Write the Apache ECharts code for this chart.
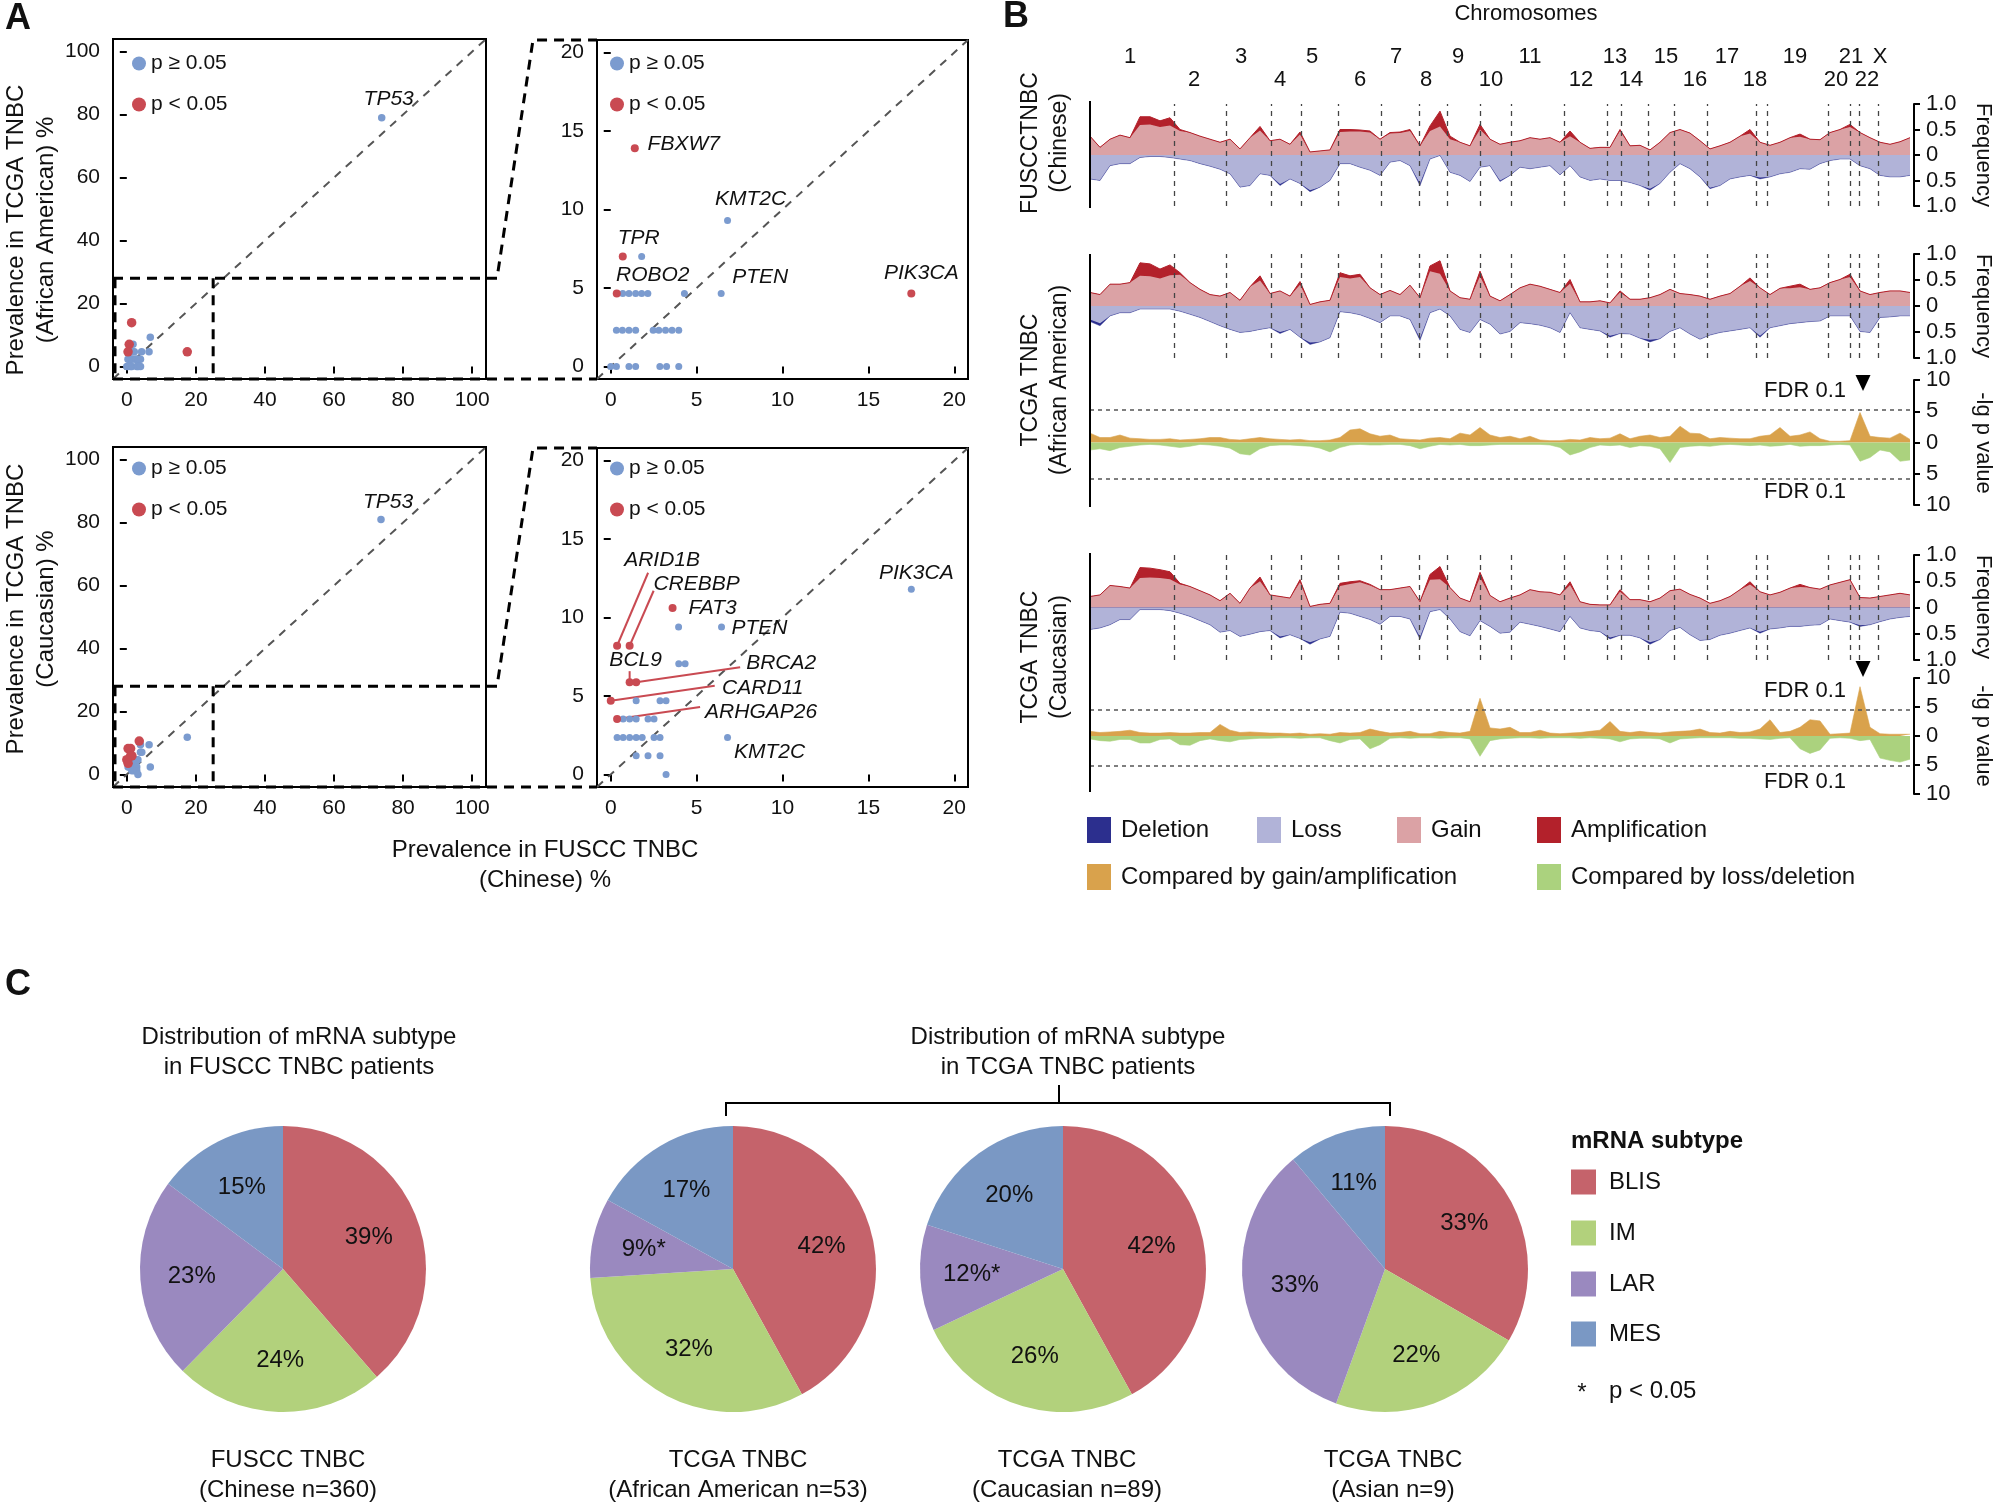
<!DOCTYPE html>
<html><head><meta charset="utf-8">
<script src="https://cdn.jsdelivr.net/npm/echarts@6/dist/echarts.min.js"></script>
<style>html,body{margin:0;padding:0;background:#fff}#c{width:1998px;height:1505px}</style>
</head><body><div id="c"></div>
<script>
const FONT = '"Liberation Sans", Arial, Helvetica, sans-serif';
const BLUE = '#7b9bcf', RED = '#c94a52', INK = '#111';

// ================= Panel A data =================
const aaBlue = [[73.8,79],[6.8,9.3],[1.8,7.0],[0.7,4.65],[1.06,4.65],[1.45,4.65],[1.8,4.65],[2.16,4.65],[4.29,4.65],[6.43,4.65],
  [0.33,2.3],[0.68,2.3],[1.06,2.3],[1.45,2.3],[2.47,2.3],[2.8,2.3],[3.19,2.3],[3.57,2.3],[3.96,2.3],
  [0,0],[0.33,0],[1.06,0],[1.45,0],[2.86,0],[3.25,0],[3.96,0]];
const aaBlueGenes = ['TP53','KMT2C','','','','','','','','PTEN','','','','','','','','','','','','','','','',''];
const aaRed = [[1.4,13.9],[0.7,7.0],[0.35,4.65],[17.5,4.65]];
const aaRedGenes = ['FBXW7','TPR','ROBO2','PIK3CA'];

const cauBlue = [[73.6,81],[17.5,11.8],[3.95,9.4],[6.45,9.4],[3.96,7.05],[4.33,7.05],[1.48,4.69],[2.87,4.69],[3.22,4.69],
  [0.72,3.53],[1.1,3.53],[1.48,3.53],[2.17,3.53],[2.52,3.53],[0.37,2.36],[0.72,2.36],[1.1,2.36],[1.48,2.36],[1.83,2.36],
  [2.52,2.36],[2.87,2.36],[6.8,2.36],[1.48,1.19],[2.17,1.19],[2.87,1.19],[3.22,0]];
const cauBlueGenes = ['TP53','PIK3CA','','PTEN','','','','','','','','','','','','','','','','','','KMT2C','','','',''];
const cauRed = [[3.6,10.6],[0.37,8.2],[1.1,8.2],[1.1,5.88],[1.48,5.88],[0,4.69],[0.37,3.53]];
const cauRedGenes = ['FAT3','ARID1B','CREBBP','BCL9','BRCA2','CARD11','ARHGAP26'];

const fullTicks = [0,20,40,60,80,100];
const zoomTicks = [0,5,10,15,20];
const zoomBox = {x:25, y:28};

// label placement (px offsets from point) – styling, not data
const offTL = {TP53:[7,-19]};
const offTR = {FBXW7:[49,-4], KMT2C:[23,-21], TPR:[16,-18], ROBO2:[36,-18], PTEN:[39,-16], PIK3CA:[10,-20]};
const offBL = {TP53:[7,-17]};
const offBR = {PIK3CA:[5,-16], FAT3:[40,0], PTEN:[38,1], KMT2C:[42,15], ARID1B:[45,-86], CREBBP:[67,-62],
  BCL9:[6,-22], BRCA2:[145,-19], CARD11:[152,-13], ARHGAP26:[144,-7]};
const leaderBR = {ARID1B:[31,-73], CREBBP:[24,-55], BCL9:[0,-11], BRCA2:[104,-15], CARD11:[104,-15], ARHGAP26:[83,-12]};

// ================= Panel B data =================
const chromNames = ['1','2','3','4','5','6','7','8','9','10','11','12','13','14','15','16','17','18','19','20','21','22','X'];
const chromLabelPos = [40,104,151,190,222,270,306,336,368,401,440,491,525,541,576,605,637,665,705,746,761,777,790];
const chromBounds = [84.6,136.6,181,211.6,248,290.8,329.4,357.3,390.5,421.6,474.6,517.5,531.4,558.7,583.9,617.6,665.8,677.6,738.2,760.7,769.2,788.5];
const genomeLen = 824, binStep = 10;

const fusccGain = [0.37,0.15,0.31,0.39,0.34,0.59,0.60,0.55,0.58,0.47, 0.44,0.37,0.31,0.25,0.31,0.12,0.34,0.48,0.28,0.31,
  0.21,0.40,0.06,0.08,0.10,0.45,0.46,0.46,0.44,0.31, 0.42,0.43,0.47,0.18,0.47,0.56,0.31,0.25,0.18,0.50,
  0.31,0.21,0.25,0.28,0.34,0.31,0.34,0.25,0.37,0.25, 0.13,0.15,0.15,0.47,0.18,0.19,0.10,0.25,0.44,0.50,
  0.43,0.28,0.12,0.18,0.25,0.37,0.42,0.25,0.19,0.25, 0.34,0.36,0.31,0.30,0.44,0.50,0.55,0.44,0.34,0.25, 0.21,0.26,0.34];
const fusccAmp = [0,0,0,0,0,0.16,0.15,0.12,0.15,0.03, 0,0,0,0,0,0,0,0.08,0,0, 0,0.05,0,0,0,0.05,0.04,0.03,0.03,0,
  0.02,0.02,0.03,0,0.10,0.30,0.06,0,0,0.10, 0,0,0,0,0,0,0,0,0.10,0, 0,0,0,0.03,0,0,0,0,0,0,
  0,0,0,0,0,0,0.08,0,0,0, 0,0.05,0,0,0,0,0.05,0,0,0, 0,0,0];
const fusccLoss = [0.47,0.50,0.21,0.17,0.17,0.05,0.03,0.03,0.05,0.08, 0.11,0.17,0.22,0.28,0.37,0.63,0.60,0.37,0.40,0.57,
  0.47,0.56,0.69,0.63,0.50,0.17,0.17,0.24,0.30,0.40, 0.14,0.11,0.21,0.56,0.08,0.01,0.34,0.40,0.52,0.24,
  0.21,0.50,0.40,0.24,0.27,0.24,0.21,0.39,0.21,0.43, 0.50,0.47,0.50,0.50,0.54,0.60,0.66,0.56,0.34,0.17,
  0.27,0.43,0.64,0.60,0.47,0.43,0.40,0.44,0.43,0.37, 0.34,0.27,0.28,0.17,0.11,0.08,0.08,0.21,0.27,0.40, 0.43,0.43,0.40];
const fusccDel = [0,0,0,0,0,0,0,0,0,0, 0,0,0,0,0,0,0,0,0,0.03, 0,0,0.03,0,0,0,0,0,0,0, 0,0,0,0.04,0,0,0,0,0,0,
  0,0.02,0,0,0,0,0,0,0,0, 0,0,0,0,0,0,0.03,0,0,0, 0,0,0.02,0,0,0,0,0.03,0,0, 0,0,0,0,0,0,0,0,0,0, 0,0,0];

const aaGain = [0.26,0.22,0.42,0.42,0.45,0.58,0.57,0.53,0.59,0.60, 0.45,0.32,0.22,0.19,0.26,0.11,0.37,0.49,0.24,0.29,
  0.19,0.41,0.03,0.08,0.11,0.56,0.53,0.56,0.35,0.22, 0.30,0.22,0.40,0.16,0.67,0.62,0.29,0.16,0.13,0.57,
  0.19,0.10,0.22,0.35,0.42,0.38,0.32,0.26,0.43,0.08, 0.08,0.10,0.06,0.26,0.13,0.13,0.16,0.22,0.32,0.24,
  0.22,0.19,0.13,0.19,0.24,0.38,0.48,0.35,0.22,0.34, 0.34,0.36,0.32,0.35,0.45,0.51,0.56,0.29,0.22,0.26, 0.29,0.29,0.26];
const aaAmp = [0,0,0,0,0,0.25,0.24,0.18,0.20,0.04, 0,0,0,0,0,0,0,0.09,0,0, 0,0.06,0,0,0,0.08,0.05,0.05,0,0,
  0,0,0,0,0.10,0.25,0,0,0,0.10, 0,0,0,0,0,0,0,0,0.08,0, 0,0,0,0.03,0,0,0,0,0,0,
  0,0,0,0,0,0,0.06,0,0,0, 0.04,0.06,0,0,0,0,0.05,0,0,0, 0,0,0];
const aaLoss = [0.26,0.33,0.19,0.13,0.13,0.06,0.06,0.06,0.06,0.10, 0.16,0.22,0.30,0.38,0.45,0.51,0.49,0.45,0.42,0.50,
  0.45,0.60,0.70,0.69,0.61,0.11,0.13,0.17,0.24,0.32, 0.19,0.19,0.26,0.62,0.13,0.06,0.19,0.45,0.51,0.26,
  0.35,0.54,0.49,0.32,0.34,0.37,0.42,0.51,0.13,0.42, 0.45,0.48,0.57,0.53,0.54,0.62,0.65,0.63,0.49,0.42,
  0.54,0.64,0.56,0.51,0.48,0.45,0.42,0.57,0.42,0.38, 0.34,0.32,0.30,0.29,0.19,0.19,0.19,0.49,0.51,0.22, 0.21,0.19,0.19];
const aaDel = [0.04,0.05,0,0,0,0,0,0,0,0, 0,0,0,0,0,0,0,0,0,0.03, 0,0,0.04,0,0,0,0,0,0,0, 0,0,0,0.04,0,0,0,0,0,0,
  0,0,0,0,0,0,0,0,0,0, 0,0,0.03,0,0,0,0.04,0,0,0, 0,0,0,0,0,0,0,0.03,0,0, 0,0,0,0,0,0,0,0,0,0, 0,0,0];

const cauGain = [0.21,0.24,0.42,0.40,0.37,0.56,0.57,0.56,0.54,0.44, 0.40,0.32,0.24,0.13,0.27,0.08,0.37,0.50,0.24,0.21,
  0.18,0.48,0.02,0.06,0.08,0.41,0.45,0.48,0.42,0.34, 0.34,0.37,0.40,0.11,0.53,0.54,0.38,0.18,0.11,0.57,
  0.23,0.11,0.18,0.24,0.34,0.30,0.29,0.24,0.43,0.11, 0.06,0.05,0.05,0.30,0.15,0.15,0.11,0.18,0.32,0.35,
  0.25,0.18,0.08,0.13,0.21,0.34,0.44,0.30,0.24,0.29, 0.37,0.39,0.38,0.35,0.43,0.48,0.53,0.19,0.18,0.21, 0.24,0.27,0.24];
const cauAmp = [0,0,0,0,0,0.20,0.18,0.16,0.14,0.02, 0,0,0,0,0,0,0,0.08,0,0, 0,0.05,0,0,0,0.05,0.04,0.03,0.02,0,
  0,0,0,0,0.10,0.24,0,0,0,0.10, 0,0,0,0,0,0,0,0,0.06,0, 0,0,0,0.04,0,0,0,0,0,0,
  0,0,0,0,0,0,0.05,0,0,0, 0,0.05,0,0,0,0,0,0,0,0, 0,0,0];
const cauLoss = [0.42,0.39,0.33,0.23,0.23,0.04,0.04,0.04,0.06,0.11, 0.17,0.25,0.33,0.47,0.44,0.55,0.51,0.46,0.44,0.55,
  0.52,0.59,0.66,0.60,0.55,0.09,0.11,0.17,0.23,0.32, 0.17,0.17,0.22,0.56,0.08,0.04,0.22,0.46,0.54,0.25,
  0.36,0.49,0.47,0.28,0.32,0.36,0.41,0.46,0.17,0.39, 0.44,0.46,0.57,0.53,0.53,0.58,0.66,0.61,0.44,0.38,
  0.52,0.63,0.61,0.53,0.49,0.44,0.39,0.46,0.41,0.39, 0.36,0.36,0.34,0.33,0.22,0.25,0.28,0.34,0.33,0.27, 0.22,0.19,0.17];
const cauDel = [0,0,0,0,0,0,0,0,0,0, 0,0,0,0,0,0,0,0,0,0.03, 0,0,0.04,0,0,0,0,0,0,0, 0,0,0,0.04,0,0,0,0,0,0,
  0,0,0,0,0,0,0,0,0,0, 0,0,0.03,0,0,0,0.04,0,0,0, 0,0,0,0,0,0,0,0.03,0,0, 0,0,0,0,0,0,0,0.02,0,0, 0,0,0];

const aaPvalGain = [1.5,0.8,0.8,1.2,0.7,0.6,0.5,0.5,0.6,0.4, 0.5,0.6,0.8,0.8,0.5,0.4,0.6,0.8,0.6,0.5,
  0.4,0.5,0.3,0.3,0.4,0.8,2.0,2.2,1.4,1.0, 1.2,0.6,0.5,0.4,0.7,0.8,0.6,1.5,1.2,2.4,
  1.2,0.8,1.0,0.6,1.0,0.4,0.3,0.3,0.5,0.4, 0.8,0.6,0.7,1.4,0.6,1.0,1.2,0.8,1.0,2.6,
  1.5,1.4,0.6,0.8,0.7,0.6,0.6,1.0,1.2,2.4, 1.0,1.2,1.7,0.6,0.2,0.2,0.3,4.8,1.0,0.8, 0.7,1.5,0.5];
const aaPvalLoss = [1.2,1.0,1.3,0.8,0.6,0.4,0.3,0.4,0.6,0.8, 0.6,0.3,0.4,0.6,0.9,1.8,2.0,1.0,0.5,0.4,
  0.4,0.5,0.6,0.9,1.5,0.8,0.4,0.3,0.4,0.4, 0.3,0.3,0.5,1.0,0.6,0.3,0.4,0.3,0.5,0.5,
  0.4,0.3,0.3,0.3,0.3,0.3,0.4,0.8,2.0,1.5, 0.8,0.4,0.5,0.4,0.8,0.5,0.6,1.0,3.2,0.8,
  0.6,0.5,0.6,0.4,0.3,0.4,0.5,0.4,0.6,0.5, 0.3,0.6,0.5,0.5,0.4,0.3,0.4,3.0,2.4,1.2, 1.5,3.0,2.8];
const cauPvalGain = [0.8,0.6,0.7,0.8,1.0,0.6,0.5,0.5,0.6,0.5, 0.5,0.6,0.6,2.0,1.0,0.6,0.7,0.6,0.5,0.5,
  0.4,0.5,0.3,0.4,0.3,0.6,0.5,0.6,1.2,0.8, 0.5,0.6,0.8,0.4,0.4,0.8,0.6,0.5,0.8,6.5,
  1.4,1.2,1.5,0.6,0.6,1.0,0.5,0.4,0.5,0.6, 0.8,1.0,2.5,0.8,0.6,0.8,0.6,0.5,0.7,0.8,
  0.9,1.2,0.6,0.5,0.8,0.6,0.7,1.2,2.8,0.6, 0.8,1.5,2.8,2.6,0.3,0.4,0.5,8.5,1.5,0.4, 0.3,0.3,0.3];
const cauPvalLoss = [0.5,0.8,0.9,0.6,0.6,1.2,1.2,0.6,0.5,1.5, 1.6,0.8,0.5,0.8,1.0,0.6,0.5,0.4,0.4,0.3,
  0.3,0.4,0.3,0.3,0.8,1.2,0.6,0.5,2.2,1.5, 0.4,0.3,0.4,0.3,0.3,0.4,0.3,0.3,0.5,3.5,
  0.8,0.5,0.4,0.3,0.3,0.4,0.3,0.3,0.3,0.4, 0.3,0.4,0.5,1.0,0.5,0.4,0.4,0.5,1.2,0.5,
  0.4,0.3,0.3,0.3,0.3,0.4,0.4,0.5,0.6,0.4, 0.3,2.2,3.0,2.4,0.4,0.3,0.4,0.8,0.6,3.8, 4.2,4.5,4.0];
const fdrAA = {gain:5.2, loss:5.73};
const fdrCau = {gain:4.5, loss:5.2};
const peakPos = 773;

// ================= Panel C data =================
const subtypes = ['BLIS','IM','LAR','MES'];
const fusccPct = [39,24,23,15];
const aaPct = [42,32,9,17];
const cauPct = [42,26,12,20];
const asianPct = [33,22,33,11];
const aaSig = ['','','*',''];
const cauSig = ['','','*',''];
const noSig = ['','','',''];

// ================= build option =================
const COL = {gain:'#dba2a5', amp:'#b3212b', loss:'#b1b3d8', del:'#2c2f8e', pg:'#d9a24c', pl:'#abd27e'};
const PIE = ['#c5636b','#b2d17c','#9a89bf','#7a98c4'];

const grids = [
  {left:113, top:39, width:373, height:340},
  {left:597, top:40, width:371, height:339},
  {left:113, top:447, width:373, height:340},
  {left:597, top:448, width:371, height:339},
  {left:1090, top:104, width:824, height:102},
  {left:1090, top:254, width:824, height:104},
  {left:1090, top:380, width:824, height:125},
  {left:1090, top:555, width:824, height:105},
  {left:1090, top:678, width:824, height:116}
].map((g,i)=> i<4 ? Object.assign({show:true, borderColor:'#000', borderWidth:2, backgroundColor:'transparent'}, g) : g);

const aRanges = [[-4,104,fullTicks],[-0.8,20.8,zoomTicks],[-4,104,fullTicks],[-0.8,20.8,zoomTicks]];
const xAxes = [], yAxes = [];
aRanges.forEach((r,gi)=>{
  const common = {gridIndex:gi, type:'value', min:r[0], max:r[1], axisLine:{show:false}, splitLine:{show:false},
    axisTick:{show:true, length:7, customValues:r[2], lineStyle:{color:'#000', width:2}}};
  xAxes.push(Object.assign({}, common, {axisLabel:{customValues:r[2], fontSize:21, fontFamily:FONT, color:INK, margin:11}}));
  yAxes.push(Object.assign({}, common, {axisLabel:{customValues:r[2], fontSize:21, fontFamily:FONT, color:INK, margin:13}}));
});
for (let gi=4; gi<9; gi++) {
  const isP = (gi===6 || gi===8);
  xAxes.push({gridIndex:gi, type:'value', min:0, max:genomeLen, show:false});
  yAxes.push({gridIndex:gi, type:'value', position:'right', min: isP?-10:-1, max: isP?10:1, interval: isP?5:0.5,
    axisLine:{show:true, onZero:false, lineStyle:{color:'#000', width:2}},
    axisTick:{show:true, length:6, lineStyle:{color:'#000', width:2}},
    splitLine:{show:false},
    axisLabel:{fontSize:22, fontFamily:FONT, color:INK, margin:12,
      formatter: v => v===0 ? '0' : (isP ? String(Math.abs(v)) : Math.abs(v).toFixed(1))}});
}

const series = [];
function scat(name, gi, pts, genes, color, size, offs) {
  return {type:'scatter', name, xAxisIndex:gi, yAxisIndex:gi, symbolSize:size, clip:true, silent:true,
    itemStyle:{color, opacity:1}, z:5,
    data: pts.map((p,i)=>{ const g = genes[i]; const o = g && offs[g];
      return o ? {value:p, label:{show:true, position:'inside', offset:o, formatter:g, fontStyle:'italic', fontSize:21,
        fontFamily:FONT, color:INK}} : {value:p}; })};
}
function diag(gi, lo, hi) {
  return {type:'line', xAxisIndex:gi, yAxisIndex:gi, data:[[lo,lo],[hi,hi]], symbol:'none', silent:true, z:2,
    lineStyle:{color:'#555', width:2, type:[8,7]}};
}
const ptsSets = [[aaBlue,aaBlueGenes,aaRed,aaRedGenes],[cauBlue,cauBlueGenes,cauRed,cauRedGenes]];
const offSets = [offTL, offTR, offBL, offBR];
for (let gi=0; gi<4; gi++) {
  const s = ptsSets[gi<2?0:1], left = (gi%2===0), r = aRanges[gi];
  series.push(diag(gi, r[0], r[1]));
  series.push(scat('p ≥ 0.05', gi, s[0], s[1], BLUE, left?7.5:7, offSets[gi]));
  series.push(scat('p < 0.05', gi, s[2], s[3], RED, left?9.5:8, offSets[gi]));
}

const bin = i => i*binStep;
function area(gi, vals, sign, fill, line, lw, extra) {
  return Object.assign({type:'line', xAxisIndex:gi, yAxisIndex:gi, symbol:'none', silent:true, z:2,
    data: vals.map((v,i)=>[bin(i), sign*v]), areaStyle:{color:fill, opacity:1},
    lineStyle:{width:lw, color:line}}, extra||{});
}
function freqSeries(gi, gain, amp, loss, del) {
  // amplification sits on top of low-level gain; deletion sits below loss
  const gainTop = gain.map((v,i)=>v+amp[i]);
  const lossBottom = loss.map((v,i)=>v+del[i]);
  series.push(area(gi, gainTop, 1, COL.amp, COL.amp, 1));
  series.push(area(gi, gain, 1, COL.gain, COL.gain, 0));
  series.push(area(gi, lossBottom, -1, COL.del, COL.del, 0.4));
  series.push(area(gi, loss, -1, COL.loss, COL.loss, 0, {
    markLine:{silent:true, symbol:['none','none'], label:{show:false}, lineStyle:{color:'#444', width:1.3, type:[5,5]},
      data: chromBounds.map(b=>({xAxis:b}))}}));
}
function pvalSeries(gi, pg, pl, fdr) {
  series.push(area(gi, pg, 1, COL.pg, COL.pg, 0.6, {
    markLine:{silent:true, symbol:['none','none'], label:{show:false}, lineStyle:{color:'#555', width:1.5, type:[4,4]},
      data:[{yAxis:fdr.gain},{yAxis:-fdr.loss}]}}));
  series.push(area(gi, pl, -1, COL.pl, COL.pl, 0.6));
}
freqSeries(4, fusccGain, fusccAmp, fusccLoss, fusccDel);
freqSeries(5, aaGain, aaAmp, aaLoss, aaDel);
pvalSeries(6, aaPvalGain, aaPvalLoss, fdrAA);
freqSeries(7, cauGain, cauAmp, cauLoss, cauDel);
pvalSeries(8, cauPvalGain, cauPvalLoss, fdrCau);

const pieCenters = [[283,1269],[733,1269],[1063,1269],[1385,1269]];
const pieR = 143;
[[fusccPct,noSig],[aaPct,aaSig],[cauPct,cauSig],[asianPct,noSig]].forEach((d,k)=>{
  const data = subtypes.map((n,i)=>({name:n, value:d[0][i]}));
  series.push({type:'pie', center:pieCenters[k], radius:[0,pieR], startAngle:90, clockwise:true, silent:true,
    label:{show:false}, labelLine:{show:false}, emphasis:{disabled:true},
    data: data.map((x,i)=>Object.assign({itemStyle:{color:PIE[i], borderWidth:0}}, x))});
  series.push({type:'pie', center:pieCenters[k], radius:[34,pieR], startAngle:90, clockwise:true, silent:true, z:3,
    itemStyle:{color:'rgba(0,0,0,0)'}, labelLine:{show:false}, emphasis:{disabled:true},
    label:{show:true, position:'inside', fontSize:24, fontFamily:FONT, color:INK,
      formatter: p => d[0][p.dataIndex] + '%' + d[1][p.dataIndex]},
    data});
});

const legends = [[127,48],[605,48],[127,453],[605,453]].map(p=>({
  data:['p ≥ 0.05','p < 0.05'], orient:'vertical', left:p[0], top:p[1], itemWidth:14, itemHeight:14, itemGap:20,
  icon:'circle', selectedMode:false, textStyle:{fontSize:21, fontFamily:FONT, color:INK, lineHeight:21}}));

const option = {animation:false, backgroundColor:'#fff', grid:grids, xAxis:xAxes, yAxis:yAxes, series, legend:legends};
const chart = echarts.init(document.getElementById('c'), null, {width:1998, height:1505});
chart.setOption(option);

// ================= annotations (graphic) =================
const G = [];
const px = (gi, x, y) => chart.convertToPixel({gridIndex:gi}, [x, y]);
function T(x, y, text, o) {
  o = o || {};
  return {type:'text', x, y, rotation:o.rot||0, silent:true, z:10,
    style:{text, fill:o.color||INK, fontSize:o.size||24, fontFamily:FONT, fontWeight:o.weight||'normal', fontStyle:o.style||'normal',
      align:o.align||'center', verticalAlign:'middle', textAlign:o.align||'center', textVerticalAlign:'middle'}};
}
const L = (pts, o) => ({type:'polyline', silent:true, z:o.z||8, shape:{points:pts},
  style:{stroke:o.color||'#000', lineWidth:o.w||2, lineDash:o.dash||null, fill:null}});

// zoom connectors
[[0,1],[2,3]].forEach(([a,b])=>{
  const L0 = px(a,-4,0)[0], R0 = px(a,104,0)[0], B0 = px(a,0,-4)[1];
  const L1 = px(b,-0.8,0)[0], T1 = px(b,0,20.8)[1], B1 = px(b,0,-0.8)[1];
  const zy = px(a,0,zoomBox.y)[1], zx = px(a,zoomBox.x,0)[0];
  const st = {w:3, dash:[10,7]};
  G.push(L([[L0,zy],[R0+11,zy],[L1-64,T1],[L1,T1]], st));
  G.push(L([[zx,zy],[zx,B0]], st));
  G.push(L([[L0,B0],[L1,B1]], st));
  G.push(L([[L0+2,zy],[L0+2,B0]], st));
});
// leader lines
cauRed.forEach((p,i)=>{
  const off = leaderBR[cauRedGenes[i]]; if (!off) return;
  const q = px(3, p[0], p[1]);
  G.push(L([[q[0],q[1]],[q[0]+off[0], q[1]+off[1]]], {color:RED, w:2, z:4}));
});
// axis titles A
G.push(T(16,230,'Prevalence in TCGA TNBC',{rot:Math.PI/2}));
G.push(T(46,230,'(African American) %',{rot:Math.PI/2}));
G.push(T(16,609,'Prevalence in TCGA TNBC',{rot:Math.PI/2}));
G.push(T(46,609,'(Caucasian) %',{rot:Math.PI/2}));
G.push(T(545,850,'Prevalence in FUSCC TNBC'));
G.push(T(545,880,'(Chinese) %'));
// panel letters
G.push(T(18,19,'A',{size:36, weight:'bold'}));
G.push(T(1016,17,'B',{size:36, weight:'bold'}));
G.push(T(18,985,'C',{size:36, weight:'bold'}));

// Panel B texts
G.push(T(1526,14,'Chromosomes',{size:22}));
chromNames.forEach((n,i)=>{ G.push(T(px(4,chromLabelPos[i],0)[0], i%2===0?57:80, n, {size:22})); });
[[1031,143,'FUSCCTNBC'],[1060,143,'(Chinese)'],[1031,380,'TCGA TNBC'],[1060,380,'(African American)'],
 [1031,657,'TCGA TNBC'],[1060,657,'(Caucasian)']].forEach(a=>G.push(T(a[0],a[1],a[2],{rot:Math.PI/2, size:23})));
[[155,'Frequency'],[306,'Frequency'],[607,'Frequency'],[443,'-lg p value'],[736,'-lg p value']].forEach(a=>
  G.push(T(1983,a[0],a[1],{rot:-Math.PI/2, size:22})));
[[391],[492],[691],[782]].forEach(a=>G.push(T(1846,a[0],'FDR 0.1',{size:22, align:'right'})));
[[6,391],[8,677]].forEach(([gi,ay])=>{
  const x = px(gi,peakPos,0)[0];
  G.push({type:'polygon', silent:true, z:10, shape:{points:[[x-7.5,ay-16],[x+7.5,ay-16],[x,ay]]}, style:{fill:'#000'}});
});
[[101,208],[254,507],[553,792]].forEach(([a,b])=>G.push(L([[1090,a],[1090,b]],{w:2})));
// Panel B legend
[[1087,830,COL.del,'Deletion'],[1257,830,COL.loss,'Loss'],[1397,830,COL.gain,'Gain'],[1537,830,COL.amp,'Amplification'],
 [1087,877,COL.pg,'Compared by gain/amplification'],[1537,877,COL.pl,'Compared by loss/deletion']].forEach(a=>{
  G.push({type:'rect', silent:true, shape:{x:a[0], y:a[1]-13, width:24, height:26}, style:{fill:a[2]}});
  G.push(T(a[0]+34, a[1], a[3], {align:'left', size:24}));
});

// Panel C texts
G.push(T(299,1037,'Distribution of mRNA subtype'));
G.push(T(299,1067,'in FUSCC TNBC patients'));
G.push(T(1068,1037,'Distribution of mRNA subtype'));
G.push(T(1068,1067,'in TCGA TNBC patients'));
G.push(L([[726,1116],[726,1103],[1390,1103],[1390,1116]],{w:2}));
G.push(L([[1059,1103],[1059,1085]],{w:2}));
[[288,'FUSCC TNBC','(Chinese n=360)'],[738,'TCGA TNBC','(African American n=53)'],
 [1067,'TCGA TNBC','(Caucasian n=89)'],[1393,'TCGA TNBC','(Asian n=9)']].forEach(a=>{
  G.push(T(a[0],1460,a[1])); G.push(T(a[0],1490,a[2]));
});
G.push(T(1571,1141,'mRNA subtype',{align:'left', weight:'bold'}));
[1182,1233,1284,1334].forEach((y,i)=>{
  G.push({type:'rect', silent:true, shape:{x:1571, y:y-12.5, width:25, height:25}, style:{fill:PIE[i]}});
  G.push(T(1609,y,subtypes[i],{align:'left'}));
});
G.push(T(1582,1393,'*',{size:24}));
G.push(T(1609,1391,'p < 0.05',{align:'left'}));

chart.setOption({graphic:{elements:G}});
</script></body></html>
